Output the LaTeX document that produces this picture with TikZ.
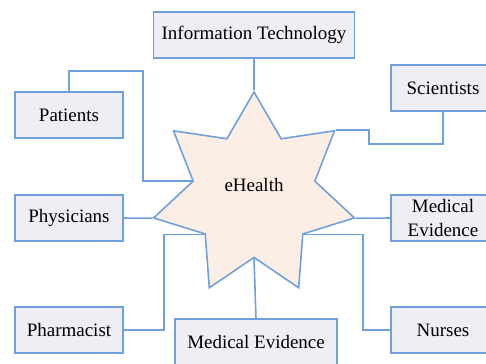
\documentclass[tikz,border=0pt]{standalone}
\usepackage{fontspec}
\setmainfont{Liberation Serif}
\usetikzlibrary{shapes.geometric}

\definecolor{edgeblue}{RGB}{112,160,220}
\definecolor{boxfill}{RGB}{239,238,244}
\definecolor{starfill}{RGB}{251,238,228}

\begin{document}
\begin{tikzpicture}[x=0.02cm,y=-0.02cm,line width=0.9pt,
    group/.style={draw=edgeblue,fill=boxfill,minimum width=2.16cm,minimum height=0.92cm,inner sep=2pt,font=\fontsize{10.8}{13.6}\selectfont},
    link/.style={draw=edgeblue}]

    % fix the size of the page
    \useasboundingbox (0,0) rectangle (486,363);

    % the star in the middle
    \node[star,star points=7,star point ratio=1.65,minimum size=4.12cm,inner sep=0pt,
          draw=edgeblue,fill=starfill,text depth=12pt,
          font=\fontsize{10.8}{13}\selectfont] (ehealth) at (254,195) {eHealth};

    % draw boxes
    \node[group,minimum width=4.02cm] (it) at (254,35) {Information Technology};
    \node[group] (patients) at (69,115) {Patients};
    \node[group] (physicians) at (69,218) {Physicians};
    \node[group] (pharmacist) at (69,330) {Pharmacist};
    \node[group,minimum width=2.08cm] (scientists) at (443,88) {Scientists};
    \node[group,minimum width=2.08cm,align=center] (evidr) at (443,218) {Medical\\Evidence};
    \node[group,minimum width=2.08cm] (nurses) at (443,330) {Nurses};
    \node[group,minimum width=3.24cm] (evidb) at (256,342) {Medical Evidence};

    % connectors
    \draw[link] (it.south) -- (ehealth.outer point 1);
    \draw[link] (patients.north) -- ++(0,-20) -- ++(74,0) |- (ehealth.inner point 2);
    \draw[link] (scientists.south) -- ++(0,32) -- ++(-74,0) |- (ehealth.outer point 7);
    \draw[link] (physicians.east) -- (ehealth.outer point 3);
    \draw[link] (evidr.west) -- (ehealth.outer point 6);
    \draw[link] (pharmacist.east) -- ++(40,0) |- (ehealth.inner point 3);
    \draw[link] (nurses.west) -- ++(-27,0) |- (ehealth.inner point 5);
    \draw[link] (evidb.north) -- (ehealth.inner point 4);

\end{tikzpicture}
\end{document}
